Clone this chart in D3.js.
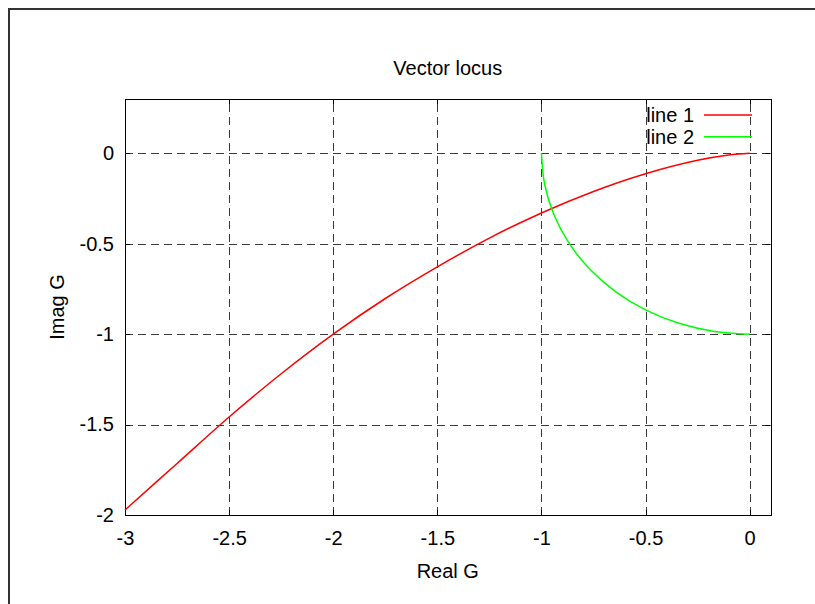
<!DOCTYPE html>
<html>
<head>
<meta charset="utf-8">
<script src="https://cdn.jsdelivr.net/npm/d3@7"></script>
<style>
  body { margin: 0; background: #fff; }
  svg { display: block; font-family: 'Liberation Sans', Arial, sans-serif; }
</style>
</head>
<body>
<svg id="chart"></svg>
<script>
const width = 815
const height = 604
const margin = { top: 99, right: 44, bottom: 89, left: 125 }
const fontSize = '20px'

// values
const xTicks = [-3, -2.5, -2, -1.5, -1, -0.5, 0]
const yTicks = [-2, -1.5, -1, -0.5, 0]
const seriesNames = ['line 1', 'line 2']
const seriesColors = ['#ff0000', '#00ff00']

const line1Real = [-3, -2.75, -2.5, -2.25, -2, -1.75, -1.5, -1.25, -1, -0.75, -0.5, -0.25, -0.1, 0]
const line1Imag = [-1.972, -1.715, -1.458, -1.219, -1.0, -0.803, -0.628, -0.469, -0.33, -0.211, -0.113, -0.039, -0.01, 0]

const line2Real = [-1, -0.985, -0.94, -0.866, -0.766, -0.643, -0.5, -0.34, -0.17, 0]
const line2Imag = [0, -0.17, -0.34, -0.5, -0.643, -0.766, -0.866, -0.94, -0.985, -1]

const svg = d3.select('#chart')
  .attr('width', width)
  .attr('height', height)

const x = d3.scaleLinear()
  .domain([-3, 0.1])
  .range([margin.left, width - margin.right - 0.5])

const y = d3.scaleLinear()
  .domain([-2, 0.3])
  .range([height - margin.bottom, margin.top])

/**
 * Zip two value arrays into point objects.
 *
 * @param {Array} re - Real parts.
 * @param {Array} im - Imaginary parts.
 * @returns {Array} - The points.
 */
function toPoints (re, im) {
  return re.map((d, i) => ({ re: d, im: im[i] }))
}

/**
 * Draw the outer frame of the picture.
 */
function addFrame () {
  svg.append('rect')
    .attr('x', 9)
    .attr('y', 9)
    .attr('width', width + 20)
    .attr('height', height + 20)
    .attr('fill', 'none')
    .attr('stroke', '#333')
    .attr('stroke-width', 2)
}

/**
 * Draw the dashed grid, the box, the ticks and the tick labels.
 */
function addAxes () {
  const [x0, x1] = x.range()
  const [y0, y1] = y.range()
  const px = v => Math.round(v) + 0.5

  const grid = svg.append('g')
    .attr('stroke', '#3a3a3a')
    .attr('stroke-width', 1)
    .attr('stroke-dasharray', '8,5')

  grid.selectAll('.vgrid')
    .data(xTicks.filter(d => d > -3))
    .enter()
    .append('line')
    .attr('x1', d => px(x(d)))
    .attr('x2', d => px(x(d)))
    .attr('y1', y0)
    .attr('y2', y1)

  grid.selectAll('.hgrid')
    .data(yTicks.filter(d => d > -2))
    .enter()
    .append('line')
    .attr('y1', d => px(y(d)))
    .attr('y2', d => px(y(d)))
    .attr('x1', x0)
    .attr('x2', x1)

  // short inward ticks on all four sides
  const ticks = svg.append('g')
    .attr('stroke', '#000')
    .attr('stroke-width', 1)
  xTicks.forEach(d => {
    ticks.append('line').attr('x1', px(x(d))).attr('x2', px(x(d))).attr('y1', y0).attr('y2', y0 - 5)
    ticks.append('line').attr('x1', px(x(d))).attr('x2', px(x(d))).attr('y1', y1).attr('y2', y1 + 5)
  })
  yTicks.forEach(d => {
    ticks.append('line').attr('y1', px(y(d))).attr('y2', px(y(d))).attr('x1', x0).attr('x2', x0 + 5)
    ticks.append('line').attr('y1', px(y(d))).attr('y2', px(y(d))).attr('x1', x1).attr('x2', x1 - 5)
  })

  const fmt = d => d3.format('~g')(d).replace('\u2212', '-')

  const xAxis = d3.axisBottom(x)
    .tickValues(xTicks)
    .tickFormat(fmt)
    .tickSize(0)
    .tickPadding(16)

  const yAxis = d3.axisLeft(y)
    .tickValues(yTicks)
    .tickFormat(fmt)
    .tickSize(0)
    .tickPadding(11)

  const gx = svg.append('g')
    .attr('transform', `translate(0, ${y0})`)
    .call(xAxis)
  const gy = svg.append('g')
    .attr('transform', `translate(${x0}, 0)`)
    .call(yAxis)

  ;[gx, gy].forEach(g => {
    g.select('.domain').remove()
    g.selectAll('text')
      .attr('font-size', fontSize)
      .attr('font-family', 'Liberation Sans, Arial, sans-serif')
      .attr('fill', '#000')
  })

  svg.append('rect')
    .attr('x', px(x0))
    .attr('y', px(y1))
    .attr('width', Math.round(x1 - x0))
    .attr('height', Math.round(y0 - y1))
    .attr('fill', 'none')
    .attr('stroke', '#000')
    .attr('stroke-width', 1)
}

/**
 * Draw the two curves.
 */
function addLines () {
  const line = d3.line()
    .x(d => x(d.re))
    .y(d => y(d.im))
    .curve(d3.curveCatmullRom)

  const series = [toPoints(line1Real, line1Imag), toPoints(line2Real, line2Imag)]

  svg.selectAll('.series')
    .data(series)
    .enter()
    .append('path')
    .attr('d', line)
    .attr('fill', 'none')
    .attr('stroke', (d, i) => seriesColors[i])
    .attr('stroke-width', 1.5)
}

/**
 * Add the legend in the top right corner.
 */
function addLegend () {
  const legend = svg.append('g')
    .attr('font-size', fontSize)

  seriesNames.forEach((name, i) => {
    const ly = 115 + i * 21.7
    legend.append('text')
      .attr('x', 694)
      .attr('y', ly)
      .attr('dy', '0.35em')
      .attr('text-anchor', 'end')
      .text(name)
    legend.append('line')
      .attr('x1', 704)
      .attr('x2', 752)
      .attr('y1', ly)
      .attr('y2', ly)
      .attr('stroke', seriesColors[i])
      .attr('stroke-width', 1.5)
  })
}

/**
 * Add the title and axis titles.
 */
function addTitles () {
  const cx = (x.range()[0] + x.range()[1]) / 2
  svg.append('text')
    .attr('x', cx)
    .attr('y', 75)
    .attr('text-anchor', 'middle')
    .attr('font-size', fontSize)
    .text('Vector locus')

  svg.append('text')
    .attr('x', cx)
    .attr('y', 578)
    .attr('text-anchor', 'middle')
    .attr('font-size', fontSize)
    .text('Real G')

  svg.append('text')
    .attr('transform', `translate(64, ${(y.range()[0] + y.range()[1]) / 2}) rotate(-90)`)
    .attr('text-anchor', 'middle')
    .attr('font-size', fontSize)
    .text('Imag G')
}

addFrame()
addAxes()
addLines()
addLegend()
addTitles()
</script>
</body>
</html>
